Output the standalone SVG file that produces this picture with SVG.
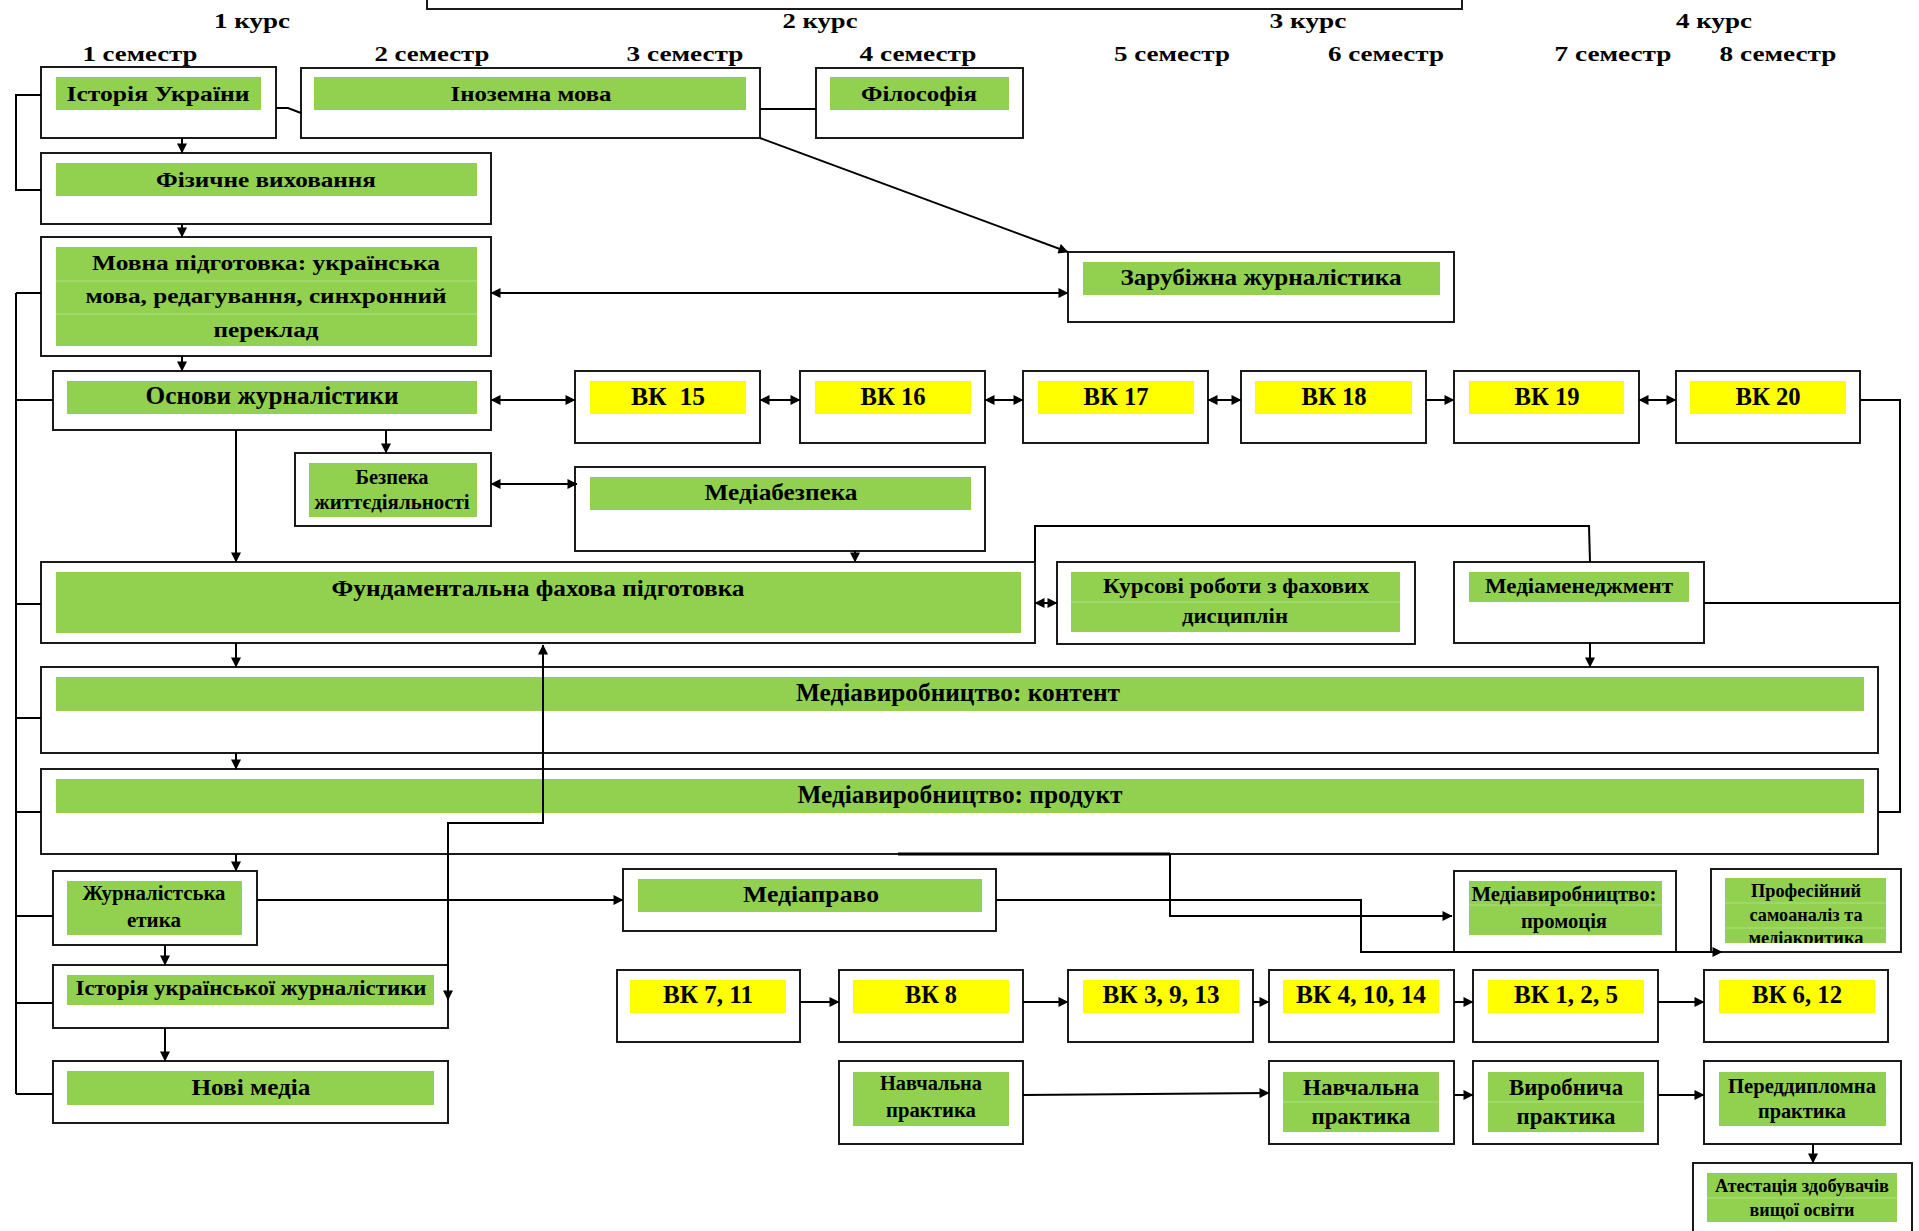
<svg xmlns="http://www.w3.org/2000/svg" width="1919" height="1231" viewBox="0 0 1919 1231">
<style>
.b{fill:#fff;stroke:#1a1a1a;stroke-width:2}
.g{fill:#92D050}
.y{fill:#FFFF00}
.sep{stroke:#aede82;stroke-width:1.2}
.t{font-family:"Liberation Serif","Times New Roman",serif;font-weight:bold;text-anchor:middle;fill:#000}
.c{fill:none;stroke:#000;stroke-width:2}
.a{marker-end:url(#ah)}
.d{marker-start:url(#ah);marker-end:url(#ah)}
</style>
<defs>
<marker id="ah" viewBox="0 0 10 10" refX="9.5" refY="5" markerWidth="11" markerHeight="10" orient="auto-start-reverse" markerUnits="userSpaceOnUse"><path d="M0,0 L10,5 L0,10 z" fill="#000"/></marker>
<clipPath id="clipProf"><rect x="1725" y="878" width="161" height="65"/></clipPath>
</defs>
<rect width="1919" height="1231" fill="#fff"/>

<g id="top-frame"><rect class="b" x="427" y="-20" width="1035" height="29"/></g>

<g id="headers">
<text class="t" x="252" y="28" font-size="22" textLength="76" lengthAdjust="spacingAndGlyphs">1 курс</text>
<text class="t" x="820" y="28" font-size="22" textLength="75" lengthAdjust="spacingAndGlyphs">2 курс</text>
<text class="t" x="1308" y="28" font-size="22" textLength="77" lengthAdjust="spacingAndGlyphs">3 курс</text>
<text class="t" x="1714" y="28" font-size="22" textLength="76" lengthAdjust="spacingAndGlyphs">4 курс</text>
<text class="t" x="140" y="61" font-size="22" textLength="115" lengthAdjust="spacingAndGlyphs">1 семестр</text>
<text class="t" x="432" y="61" font-size="22" textLength="115" lengthAdjust="spacingAndGlyphs">2 семестр</text>
<text class="t" x="685" y="61" font-size="22" textLength="117" lengthAdjust="spacingAndGlyphs">3 семестр</text>
<text class="t" x="918" y="61" font-size="22" textLength="117" lengthAdjust="spacingAndGlyphs">4 семестр</text>
<text class="t" x="1172" y="61" font-size="22" textLength="116" lengthAdjust="spacingAndGlyphs">5 семестр</text>
<text class="t" x="1386" y="61" font-size="22" textLength="116" lengthAdjust="spacingAndGlyphs">6 семестр</text>
<text class="t" x="1613" y="61" font-size="22" textLength="117" lengthAdjust="spacingAndGlyphs">7 семестр</text>
<text class="t" x="1778" y="61" font-size="22" textLength="117" lengthAdjust="spacingAndGlyphs">8 семестр</text>
</g>

<g id="n-istoriya-ukrainy">
<rect class="b" x="41" y="67" width="235" height="71"/>
<rect class="g" x="56" y="77" width="205" height="33"/>
<text class="t" x="158" y="101" font-size="21" textLength="183" lengthAdjust="spacingAndGlyphs">Історія України</text>
</g>
<g id="n-inozemna-mova">
<rect class="b" x="301" y="68" width="459" height="70"/>
<rect class="g" x="314" y="77" width="432" height="33"/>
<text class="t" x="531" y="101" font-size="21" textLength="161" lengthAdjust="spacingAndGlyphs">Іноземна мова</text>
</g>
<g id="n-filosofiya">
<rect class="b" x="816" y="68" width="207" height="70"/>
<rect class="g" x="830" y="77" width="179" height="33"/>
<text class="t" x="919" y="101" font-size="21" textLength="116" lengthAdjust="spacingAndGlyphs">Філософія</text>
</g>
<g id="n-fizychne">
<rect class="b" x="41" y="153" width="450" height="71"/>
<rect class="g" x="56" y="163" width="421" height="33"/>
<text class="t" x="266" y="187" font-size="21" textLength="220" lengthAdjust="spacingAndGlyphs">Фізичне виховання</text>
</g>
<g id="n-movna">
<rect class="b" x="41" y="237" width="450" height="119"/>
<rect class="g" x="56" y="247" width="421" height="99"/>
<line class="sep" x1="56" y1="281" x2="477" y2="281"/>
<line class="sep" x1="56" y1="314" x2="477" y2="314"/>
<text class="t" x="266" y="270" font-size="22" textLength="348" lengthAdjust="spacingAndGlyphs">Мовна підготовка: українська</text>
<text class="t" x="266" y="303" font-size="22" textLength="361" lengthAdjust="spacingAndGlyphs">мова, редагування, синхронний</text>
<text class="t" x="266" y="337" font-size="22" textLength="105" lengthAdjust="spacingAndGlyphs">переклад</text>
</g>
<g id="n-zarubizhna">
<rect class="b" x="1068" y="252" width="386" height="70"/>
<rect class="g" x="1083" y="262" width="357" height="33"/>
<text class="t" x="1261" y="285" font-size="23" textLength="281" lengthAdjust="spacingAndGlyphs">Зарубіжна журналістика</text>
</g>
<g id="n-osnovy">
<rect class="b" x="53" y="371" width="438" height="59"/>
<rect class="g" x="67" y="381" width="410" height="33"/>
<text class="t" x="272" y="404" font-size="25" textLength="253" lengthAdjust="spacingAndGlyphs">Основи журналістики</text>
</g>
<g id="n-vk15">
<rect class="b" x="575" y="371" width="185" height="72"/>
<rect class="y" x="590" y="381" width="156" height="33"/>
<text class="t" x="668" y="405" font-size="25" textLength="74" lengthAdjust="spacingAndGlyphs" style="white-space:pre">ВК  15</text>
</g>
<g id="n-vk16">
<rect class="b" x="800" y="371" width="185" height="72"/>
<rect class="y" x="815" y="381" width="156" height="33"/>
<text class="t" x="893" y="405" font-size="25" textLength="65" lengthAdjust="spacingAndGlyphs">ВК 16</text>
</g>
<g id="n-vk17">
<rect class="b" x="1023" y="371" width="185" height="72"/>
<rect class="y" x="1038" y="381" width="156" height="33"/>
<text class="t" x="1116" y="405" font-size="25" textLength="65" lengthAdjust="spacingAndGlyphs">ВК 17</text>
</g>
<g id="n-vk18">
<rect class="b" x="1241" y="371" width="185" height="72"/>
<rect class="y" x="1255" y="381" width="157" height="33"/>
<text class="t" x="1334" y="405" font-size="25" textLength="65" lengthAdjust="spacingAndGlyphs">ВК 18</text>
</g>
<g id="n-vk19">
<rect class="b" x="1454" y="371" width="185" height="72"/>
<rect class="y" x="1469" y="381" width="155" height="33"/>
<text class="t" x="1547" y="405" font-size="25" textLength="65" lengthAdjust="spacingAndGlyphs">ВК 19</text>
</g>
<g id="n-vk20">
<rect class="b" x="1676" y="371" width="184" height="72"/>
<rect class="y" x="1690" y="381" width="156" height="33"/>
<text class="t" x="1768" y="405" font-size="25" textLength="65" lengthAdjust="spacingAndGlyphs">ВК 20</text>
</g>
<g id="n-bezpeka">
<rect class="b" x="295" y="453" width="196" height="73"/>
<rect class="g" x="309" y="463" width="168" height="54"/>
<text class="t" x="392" y="484" font-size="20" textLength="73" lengthAdjust="spacingAndGlyphs">Безпека</text>
<text class="t" x="392" y="509" font-size="20" textLength="155" lengthAdjust="spacingAndGlyphs">життєдіяльності</text>
</g>
<g id="n-mediabezpeka">
<rect class="b" x="575" y="467" width="410" height="84"/>
<rect class="g" x="590" y="477" width="381" height="33"/>
<text class="t" x="781" y="500" font-size="24" textLength="153" lengthAdjust="spacingAndGlyphs">Медіабезпека</text>
</g>
<g id="n-ffp">
<rect class="b" x="41" y="562" width="994" height="81"/>
<rect class="g" x="56" y="572" width="965" height="61"/>
<text class="t" x="538" y="596" font-size="24" textLength="413" lengthAdjust="spacingAndGlyphs">Фундаментальна фахова підготовка</text>
</g>
<g id="n-kursovi">
<rect class="b" x="1057" y="562" width="358" height="82"/>
<rect class="g" x="1071" y="572" width="329" height="60"/>
<line class="sep" x1="1071" y1="602" x2="1400" y2="602"/>
<text class="t" x="1236" y="593" font-size="21" textLength="266" lengthAdjust="spacingAndGlyphs">Курсові роботи з фахових</text>
<text class="t" x="1235" y="623" font-size="21" textLength="106" lengthAdjust="spacingAndGlyphs">дисциплін</text>
</g>
<g id="n-mediamenedzhment">
<rect class="b" x="1454" y="562" width="250" height="81"/>
<rect class="g" x="1469" y="572" width="220" height="30"/>
<text class="t" x="1579" y="593" font-size="22" textLength="188" lengthAdjust="spacingAndGlyphs">Медіаменеджмент</text>
</g>
<g id="n-kontent">
<rect class="b" x="41" y="667" width="1837" height="86"/>
<rect class="g" x="56" y="677" width="1808" height="34"/>
<text class="t" x="958" y="701" font-size="25" textLength="324" lengthAdjust="spacingAndGlyphs">Медіавиробництво: контент</text>
</g>
<g id="n-produkt">
<rect class="b" x="41" y="769" width="1837" height="85"/>
<rect class="g" x="56" y="779" width="1808" height="34"/>
<text class="t" x="960" y="803" font-size="25" textLength="325" lengthAdjust="spacingAndGlyphs">Медіавиробництво: продукт</text>
</g>
<g id="n-etyka">
<rect class="b" x="53" y="871" width="204" height="74"/>
<rect class="g" x="67" y="881" width="175" height="54"/>
<text class="t" x="154" y="900" font-size="21" textLength="143" lengthAdjust="spacingAndGlyphs">Журналістська</text>
<text class="t" x="154" y="927" font-size="21" textLength="54" lengthAdjust="spacingAndGlyphs">етика</text>
</g>
<g id="n-istoriya-zhurn">
<rect class="b" x="53" y="965" width="395" height="63"/>
<rect class="g" x="67" y="975" width="367" height="30"/>
<text class="t" x="251" y="995" font-size="22" textLength="351" lengthAdjust="spacingAndGlyphs">Історія української журналістики</text>
</g>
<g id="n-novi-media">
<rect class="b" x="53" y="1061" width="395" height="62"/>
<rect class="g" x="67" y="1071" width="367" height="34"/>
<text class="t" x="251" y="1095" font-size="24" textLength="119" lengthAdjust="spacingAndGlyphs">Нові медіа</text>
</g>
<g id="n-mediapravo">
<rect class="b" x="623" y="869" width="373" height="62"/>
<rect class="g" x="638" y="879" width="344" height="33"/>
<text class="t" x="811" y="902" font-size="24" textLength="136" lengthAdjust="spacingAndGlyphs">Медіаправо</text>
</g>
<g id="n-promotsiya">
<rect class="b" x="1454" y="871" width="222" height="81"/>
<rect class="g" x="1469" y="881" width="193" height="54"/>
<line class="sep" x1="1469" y1="905" x2="1662" y2="905"/>
<text class="t" x="1564" y="901" font-size="20" textLength="185" lengthAdjust="spacingAndGlyphs">Медіавиробництво:</text>
<text class="t" x="1564" y="928" font-size="20" textLength="86" lengthAdjust="spacingAndGlyphs">промоція</text>
</g>
<g id="n-profesiynyi">
<rect class="b" x="1711" y="869" width="190" height="83"/>
<rect class="g" x="1725" y="878" width="161" height="65"/>
<line class="sep" x1="1725" y1="903" x2="1886" y2="903"/>
<line class="sep" x1="1725" y1="928" x2="1886" y2="928"/>
<g clip-path="url(#clipProf)">
<text class="t" x="1806" y="897" font-size="18" textLength="110" lengthAdjust="spacingAndGlyphs">Професійний</text>
<text class="t" x="1806" y="921" font-size="18" textLength="113" lengthAdjust="spacingAndGlyphs">самоаналіз та</text>
<text class="t" x="1806" y="944" font-size="18" textLength="115" lengthAdjust="spacingAndGlyphs">медіакритика</text>
</g>
</g>
<g id="n-vk7-11">
<rect class="b" x="617" y="970" width="183" height="72"/>
<rect class="y" x="630" y="980" width="156" height="33"/>
<text class="t" x="708" y="1003" font-size="25" textLength="90" lengthAdjust="spacingAndGlyphs">ВК 7, 11</text>
</g>
<g id="n-vk8">
<rect class="b" x="839" y="970" width="184" height="72"/>
<rect class="y" x="853" y="980" width="156" height="33"/>
<text class="t" x="931" y="1003" font-size="25" textLength="52" lengthAdjust="spacingAndGlyphs">ВК 8</text>
</g>
<g id="n-vk3-9-13">
<rect class="b" x="1068" y="970" width="185" height="72"/>
<rect class="y" x="1083" y="980" width="156" height="33"/>
<text class="t" x="1161" y="1003" font-size="25" textLength="117" lengthAdjust="spacingAndGlyphs">ВК 3, 9, 13</text>
</g>
<g id="n-vk4-10-14">
<rect class="b" x="1269" y="970" width="185" height="72"/>
<rect class="y" x="1283" y="980" width="156" height="33"/>
<text class="t" x="1361" y="1003" font-size="25" textLength="130" lengthAdjust="spacingAndGlyphs">ВК 4, 10, 14</text>
</g>
<g id="n-vk1-2-5">
<rect class="b" x="1473" y="970" width="185" height="72"/>
<rect class="y" x="1488" y="980" width="156" height="33"/>
<text class="t" x="1566" y="1003" font-size="25" textLength="104" lengthAdjust="spacingAndGlyphs">ВК 1, 2, 5</text>
</g>
<g id="n-vk6-12">
<rect class="b" x="1704" y="970" width="184" height="72"/>
<rect class="y" x="1719" y="980" width="156" height="33"/>
<text class="t" x="1797" y="1003" font-size="25" textLength="90" lengthAdjust="spacingAndGlyphs">ВК 6, 12</text>
</g>
<g id="n-navch1">
<rect class="b" x="839" y="1061" width="184" height="83"/>
<rect class="g" x="853" y="1072" width="156" height="54"/>
<text class="t" x="931" y="1090" font-size="20" textLength="102" lengthAdjust="spacingAndGlyphs">Навчальна</text>
<text class="t" x="931" y="1117" font-size="20" textLength="90" lengthAdjust="spacingAndGlyphs">практика</text>
</g>
<g id="n-navch2">
<rect class="b" x="1269" y="1061" width="185" height="83"/>
<rect class="g" x="1283" y="1072" width="156" height="60"/>
<line class="sep" x1="1283" y1="1102" x2="1439" y2="1102"/>
<text class="t" x="1361" y="1095" font-size="23" textLength="116" lengthAdjust="spacingAndGlyphs">Навчальна</text>
<text class="t" x="1361" y="1124" font-size="23" textLength="99" lengthAdjust="spacingAndGlyphs">практика</text>
</g>
<g id="n-vyrobnycha">
<rect class="b" x="1473" y="1061" width="185" height="83"/>
<rect class="g" x="1488" y="1072" width="156" height="60"/>
<line class="sep" x1="1488" y1="1102" x2="1644" y2="1102"/>
<text class="t" x="1566" y="1095" font-size="23" textLength="114" lengthAdjust="spacingAndGlyphs">Виробнича</text>
<text class="t" x="1566" y="1124" font-size="23" textLength="99" lengthAdjust="spacingAndGlyphs">практика</text>
</g>
<g id="n-pereddyplomna">
<rect class="b" x="1704" y="1061" width="197" height="83"/>
<rect class="g" x="1719" y="1072" width="167" height="54"/>
<text class="t" x="1802" y="1093" font-size="21" textLength="148" lengthAdjust="spacingAndGlyphs">Переддипломна</text>
<text class="t" x="1802" y="1118" font-size="21" textLength="88" lengthAdjust="spacingAndGlyphs">практика</text>
</g>
<g id="n-atestatsiya">
<rect class="b" x="1693" y="1163" width="219" height="80"/>
<rect class="g" x="1707" y="1173" width="190" height="49"/>
<line class="sep" x1="1707" y1="1198" x2="1897" y2="1198"/>
<text class="t" x="1802" y="1192" font-size="18" textLength="174" lengthAdjust="spacingAndGlyphs">Атестація здобувачів</text>
<text class="t" x="1802" y="1216" font-size="18" textLength="105" lengthAdjust="spacingAndGlyphs">вищої освіти</text>
</g>

<g id="connectors">
<path class="c" d="M41,95 H16 V190 H41"/>
<path class="c" d="M276,108 L288,108 L301,113"/>
<path class="c" d="M760,109 H816"/>
<path class="c a" d="M182,138 V153"/>
<path class="c a" d="M182,224 V237"/>
<path class="c a" d="M182,356 V371"/>
<path class="c a" d="M760,138 L1068,252"/>
<path class="c d" d="M491,293 H1068"/>
<path class="c d" d="M491,400 H575"/>
<path class="c d" d="M760,400 H800"/>
<path class="c d" d="M985,400 H1023"/>
<path class="c d" d="M1208,400 H1241"/>
<path class="c a" d="M1426,400 H1454"/>
<path class="c d" d="M1639,400 H1676"/>
<path class="c" d="M1860,400 H1900 V812 H1878"/>
<path class="c" d="M1704,603 H1900"/>
<path class="c a" d="M386,430 V453"/>
<path class="c a" d="M236,430 V562"/>
<path class="c d" d="M491,484 H577"/>
<path class="c a" d="M855,551 V562"/>
<path class="c d" d="M1035,603 H1057"/>
<path class="c" d="M1035,562 V526 H1589 L1590,562"/>
<path class="c a" d="M1590,643 V667"/>
<path class="c a" d="M236,643 V667"/>
<path class="c a" d="M236,753 V769"/>
<path class="c a" d="M236,854 V871"/>
<path class="c a" d="M165,945 V965"/>
<path class="c a" d="M165,1028 V1061"/>
<path class="c d" d="M448,1000 V823 H543 V645"/>
<path class="c a" d="M257,900 H623"/>
<path class="c a" d="M996,900 H1361 V952 H1722"/>
<path class="c" d="M898,854 H1170" style="stroke-width:3"/>
<path class="c a" d="M1170,854 V916 H1452"/>
<path class="c" d="M16,293 V1094"/>
<path class="c" d="M16,293 H41 M16,400 H53 M16,604 H41 M16,718 H41 M16,812 H41 M16,916 H53 M16,1003 H53 M16,1094 H53"/>
<path class="c a" d="M800,1002 H839"/>
<path class="c a" d="M1023,1002 H1068"/>
<path class="c a" d="M1253,1002 H1269"/>
<path class="c a" d="M1454,1002 H1473"/>
<path class="c a" d="M1658,1002 H1704"/>
<path class="c a" d="M1023,1095 L1269,1093"/>
<path class="c a" d="M1454,1095 H1473"/>
<path class="c a" d="M1658,1095 H1704"/>
<path class="c a" d="M1813,1144 V1163"/>
</g>
</svg>
